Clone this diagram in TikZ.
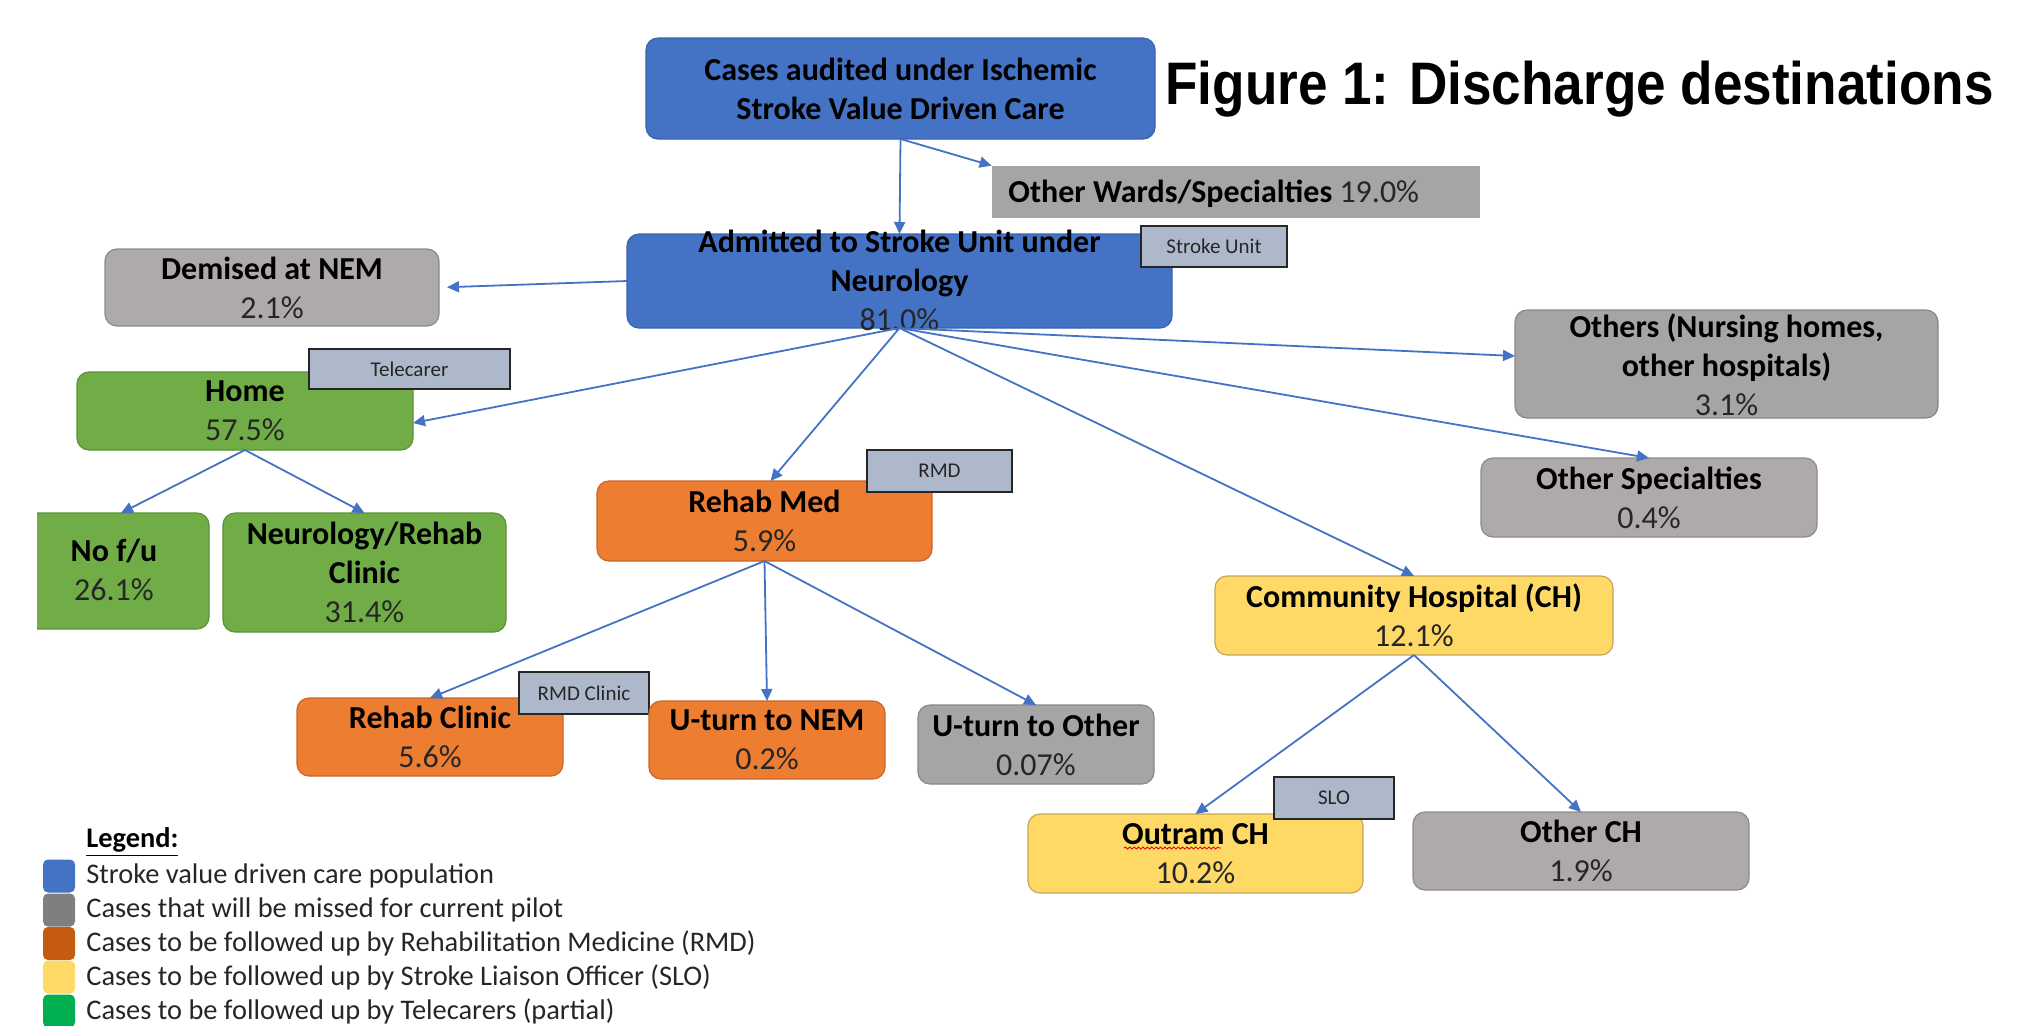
\documentclass[tikz,border=0pt]{standalone}
\usepackage{fontspec}
\setmainfont{Carlito}
\newfontfamily\titlefont[FakeStretch=0.885]{Liberation Sans}
\usetikzlibrary{arrows.meta,decorations.pathmorphing}
\definecolor{cblue}{HTML}{4472C4}
\definecolor{cblueD}{HTML}{3A63AD}
\definecolor{cgray}{HTML}{AEAAAA}
\definecolor{cgrayD}{HTML}{8E8A8A}
\definecolor{cgrayB}{HTML}{A5A5A5}
\definecolor{cgrayBD}{HTML}{888888}
\definecolor{cgreen}{HTML}{70AD47}
\definecolor{cgreenD}{HTML}{5B9138}
\definecolor{corange}{HTML}{ED7D31}
\definecolor{corangeD}{HTML}{C9662A}
\definecolor{cyellow}{HTML}{FFD966}
\definecolor{cyellowD}{HTML}{C4A55A}
\definecolor{ctag}{HTML}{ADB9CA}
\definecolor{ctagD}{HTML}{262626}
\definecolor{pctcol}{HTML}{262626}
\definecolor{lgray}{HTML}{7F7F7F}
\definecolor{lorange}{HTML}{C55A11}
\definecolor{lgreen}{HTML}{00B050}
\newcommand\pctx[1]{{\color{pctcol}#1}}
\begin{document}
\begin{tikzpicture}[x=0.5pt,y=-0.5pt,
  box/.style={rounded corners=6pt, line width=0.6pt, inner sep=0pt, outer sep=0pt},
  bluebox/.style={box, fill=cblue, draw=cblueD},
  graybox/.style={box, fill=cgray, draw=cgrayD},
  grayboxB/.style={box, fill=cgrayB, draw=cgrayBD},
  greenbox/.style={box, fill=cgreen, draw=cgreenD},
  orangebox/.style={box, fill=corange, draw=corangeD},
  yellowbox/.style={box, fill=cyellow, draw=cyellowD},
  tagbox/.style={fill=ctag, draw=ctagD, line width=0.8pt, inner sep=0pt, outer sep=0pt,
    font=\fontsize{10.5}{12}\selectfont, text=ctagD},
  txt/.style={align=center, font=\fontsize{16}{19.5}\selectfont, inner sep=0pt, text=black},
  arr/.style={draw=cblue, line width=0.9pt, -{Triangle[length=6pt,width=5.5pt]}},
  lsq/.style={rounded corners=2.5pt, minimum width=16pt, minimum height=16.5pt, inner sep=0pt},
  ltxt/.style={anchor=west, inner sep=0pt, font=\fontsize{14.2}{17}\selectfont, text=black!85}
]
\useasboundingbox (0,0) rectangle (2035,1025);

% title
\node[anchor=base west, inner sep=0pt, font=\titlefont\bfseries\fontsize{30}{34}\selectfont] (title) at (1165,104) {Figure 1: Discharge destinations};

% top
\node[bluebox, minimum width=254.5pt, minimum height=50.5pt] (top) at (900.5,88.5) {};
\node[txt] (top-t) at (top.center) {\textbf{Cases audited under Ischemic}\\\textbf{Stroke Value Driven Care}};

% other wards
\node[fill=cgrayB, inner sep=0pt, minimum width=244pt, minimum height=26pt] (wards) at (1236,192) {};
\node[txt, anchor=west] (wards-t) at (1008,194) {\textbf{Other Wards/Specialties} \pctx{19.0\%}};

% admitted
\node[bluebox, minimum width=272.5pt, minimum height=47pt] (adm) at (899.5,281) {};
\node[txt] (adm-t) at (899.5,280) {\textbf{Admitted to Stroke Unit under}\\\textbf{Neurology}\\\pctx{81.0\%}};
\node[tagbox, minimum width=73pt, minimum height=20.5pt] (tstroke) at (1214,246.5) {Stroke Unit};

% demised
\node[graybox, minimum width=167pt, minimum height=38.5pt] (dem) at (272,287.5) {};
\node[txt] (dem-t) at (dem.center) {\textbf{Demised at NEM}\\\pctx{2.1\%}};

% home
\node[greenbox, minimum width=168pt, minimum height=39pt] (home) at (245,411) {};
\node[txt] (home-t) at (home.center) {\textbf{Home}\\\pctx{57.5\%}};
\node[tagbox, minimum width=100.5pt, minimum height=20pt] (ttele) at (409.5,369) {Telecarer};

% no f/u (clipped)
\begin{scope}
\clip (37,490) rectangle (300,650);
\node[greenbox, minimum width=95pt, minimum height=58pt] (nofu) at (114,571) {};
\end{scope}
\node[txt] (nofu-t) at (114,570) {\textbf{No f/u}\\\pctx{26.1\%}};

% neurology / rehab clinic
\node[greenbox, minimum width=141.5pt, minimum height=59.5pt] (neuro) at (364.5,572.5) {};
\node[txt] (neuro-t) at (neuro.center) {\textbf{Neurology/Rehab}\\\textbf{Clinic}\\\pctx{31.4\%}};

% rehab med
\node[orangebox, minimum width=167.5pt, minimum height=40pt] (rmed) at (764.5,521) {};
\node[txt] (rmed-t) at (rmed.center) {\textbf{Rehab Med}\\\pctx{5.9\%}};
\node[tagbox, minimum width=72.5pt, minimum height=21pt] (trmd) at (939.5,471) {RMD};

% rehab clinic
\node[orangebox, minimum width=133pt, minimum height=39pt] (rclin) at (430,737) {};
\node[txt] (rclin-t) at (rclin.center) {\textbf{Rehab Clinic}\\\pctx{5.6\%}};
\node[tagbox, minimum width=65pt, minimum height=21pt] (trmdc) at (584,693) {RMD Clinic};

% u-turn nem
\node[orangebox, minimum width=118pt, minimum height=39pt] (unem) at (767,740) {};
\node[txt] (unem-t) at (unem.center) {\textbf{U-turn to NEM}\\\pctx{0.2\%}};

% u-turn other
\node[grayboxB, minimum width=118pt, minimum height=39.5pt] (uoth) at (1036,744.5) {};
\node[txt] (uoth-t) at (uoth.center) {\textbf{U-turn to Other}\\\pctx{0.07\%}};

% others nursing
\node[grayboxB, minimum width=211.5pt, minimum height=54pt] (others) at (1726.5,364) {};
\node[txt] (others-t) at (1726.5,365) {\textbf{Others (Nursing homes,}\\\textbf{other hospitals)}\\\pctx{3.1\%}};

% other specialties
\node[graybox, minimum width=168pt, minimum height=39.5pt] (ospec) at (1649,497.5) {};
\node[txt] (ospec-t) at (ospec.center) {\textbf{Other Specialties}\\\pctx{0.4\%}};

% community hospital
\node[yellowbox, minimum width=199pt, minimum height=39.5pt] (ch) at (1414,615.5) {};
\node[txt] (ch-t) at (ch.center) {\textbf{Community Hospital (CH)}\\\pctx{12.1\%}};

% outram
\node[yellowbox, minimum width=167.5pt, minimum height=39.5pt] (outram) at (1195.5,853.5) {};
\node[txt] (outram-t) at (outram.center) {\textbf{Outram CH}\\\pctx{10.2\%}};
\draw[red!85!black, line width=0.4pt, decorate, decoration={snake, amplitude=0.5pt, segment length=2.2pt}] (1124,848) -- (1221,848);
\node[tagbox, minimum width=60pt, minimum height=21pt] (tslo) at (1334,798) {SLO};

% other ch
\node[graybox, minimum width=168pt, minimum height=39pt] (och) at (1581,851) {};
\node[txt] (och-t) at (och.center) {\textbf{Other CH}\\\pctx{1.9\%}};

% arrows
\draw[arr] (top.south) -- (adm.north);
\draw[arr] (top.south) -- (wards.north west);
\draw[arr, shorten >=4pt] (adm.west) -- (dem.east);
\draw[arr] (adm.south) -- ([yshift=-6pt]home.east);
\draw[arr] (adm.south) -- ([xshift=3pt]rmed.north);
\draw[arr] (adm.south) -- (ch.north);
\draw[arr] (adm.south) -- ([yshift=4pt]others.west);
\draw[arr] (adm.south) -- (ospec.north);
\draw[arr] (home.south) -- ([xshift=3.5pt]nofu.north);
\draw[arr] (home.south) -- (neuro.north);
\draw[arr] (rmed.south) -- (rclin.north);
\draw[arr] (rmed.south) -- (unem.north);
\draw[arr] (rmed.south) -- (uoth.north);
\draw[arr] (ch.south) -- (outram.north);
\draw[arr] (ch.south) -- (och.north);

% legend
\node[anchor=west, inner sep=0pt, font=\fontsize{14.2}{17}\selectfont] (leg) at (86,842) {\underline{\textbf{Legend:}}};
\node[lsq, fill=cblue] (l1) at (59,876) {};
\node[ltxt] (l1-t) at (86,876) {Stroke value driven care population};
\node[lsq, fill=lgray] (l2) at (59,910) {};
\node[ltxt] (l2-t) at (86,910) {Cases that will be missed for current pilot};
\node[lsq, fill=lorange] (l3) at (59,943.5) {};
\node[ltxt] (l3-t) at (86,943.5) {Cases to be followed up by Rehabilitation Medicine (RMD)};
\node[lsq, fill=cyellow] (l4) at (59,977) {};
\node[ltxt] (l4-t) at (86,977) {Cases to be followed up by Stroke Liaison Officer (SLO)};
\node[lsq, fill=lgreen] (l5) at (59,1011) {};
\node[ltxt] (l5-t) at (86,1011) {Cases to be followed up by Telecarers (partial)};
\end{tikzpicture}
\end{document}
